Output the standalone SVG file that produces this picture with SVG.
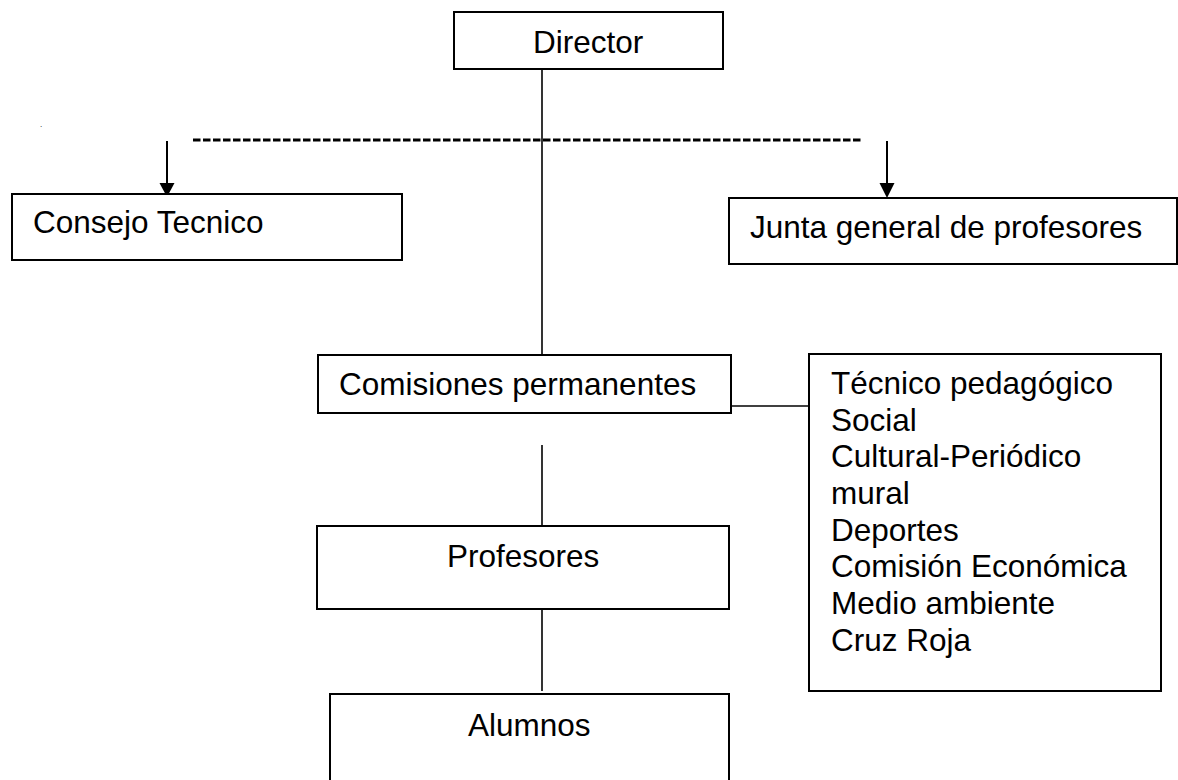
<svg xmlns="http://www.w3.org/2000/svg" width="1178" height="780" viewBox="0 0 1178 780">
<style>
.box{fill:#fff;stroke:#000;stroke-width:2}
.t{font-family:"Liberation Sans",Arial,sans-serif;font-size:31.5px;fill:#000}
.ln{stroke:#000;stroke-width:1.6;fill:none}
.ar{stroke:#000;stroke-width:2;fill:none}
</style>
<defs>
<marker id="ah" markerUnits="userSpaceOnUse" markerWidth="16" markerHeight="16" viewBox="0 0 16 16" refX="8" refY="14" orient="auto-start-reverse">
<path d="M0.5 0 L15.5 0 L8 14 Z" fill="#000" transform="rotate(-90 8 8)"/>
</marker>
</defs>
<rect width="1178" height="780" fill="#fff"/>
<g id="connectors">
<line class="ln" x1="542" y1="69" x2="542" y2="355"/>
<line x1="193" y1="140" x2="862" y2="140" stroke="#000" stroke-width="3" stroke-dasharray="7.5 2.5"/>
<line class="ar" x1="167" y1="141" x2="167" y2="184"/>
<path d="M159.5 183 L174.5 183 L167 197 Z" fill="#000"/>
<line class="ar" x1="887" y1="141" x2="887" y2="184"/>
<path d="M879.5 183 L894.5 183 L887 198 Z" fill="#000"/>
<line class="ln" x1="731" y1="406" x2="809" y2="406"/>
<line class="ln" x1="542" y1="445" x2="542" y2="527"/>
<line class="ln" x1="542" y1="609" x2="542" y2="691"/>
</g>
<g id="dot"><text class="t" x="40" y="127" style="font-size:8px">.</text></g>
<g id="director">
<rect class="box" x="454" y="12" width="269" height="57"/>
<text class="t" x="533" y="52.5">Director</text>
</g>
<g id="consejo">
<rect class="box" x="12" y="194" width="390" height="66"/>
<text class="t" x="33" y="233">Consejo  Tecnico</text>
</g>
<g id="junta">
<rect class="box" x="729" y="198" width="448" height="66"/>
<text class="t" x="750" y="238">Junta general de profesores</text>
</g>
<g id="comisiones">
<rect class="box" x="318" y="355" width="413" height="58"/>
<text class="t" x="339" y="395">Comisiones permanentes</text>
</g>
<g id="lista">
<rect class="box" x="809" y="354" width="352" height="337"/>
<text class="t" x="831" y="394">Técnico pedagógico</text>
<text class="t" x="831" y="431">Social</text>
<text class="t" x="831" y="467">Cultural-Periódico</text>
<text class="t" x="831" y="504">mural</text>
<text class="t" x="831" y="541">Deportes</text>
<text class="t" x="831" y="577">Comisión Económica</text>
<text class="t" x="831" y="614">Medio ambiente</text>
<text class="t" x="831" y="651">Cruz Roja</text>
</g>
<g id="profesores">
<rect class="box" x="317" y="526" width="412" height="83"/>
<text class="t" x="447" y="567">Profesores</text>
</g>
<g id="alumnos">
<rect class="box" x="330" y="694" width="399" height="120"/>
<text class="t" x="468" y="736">Alumnos</text>
</g>
</svg>
